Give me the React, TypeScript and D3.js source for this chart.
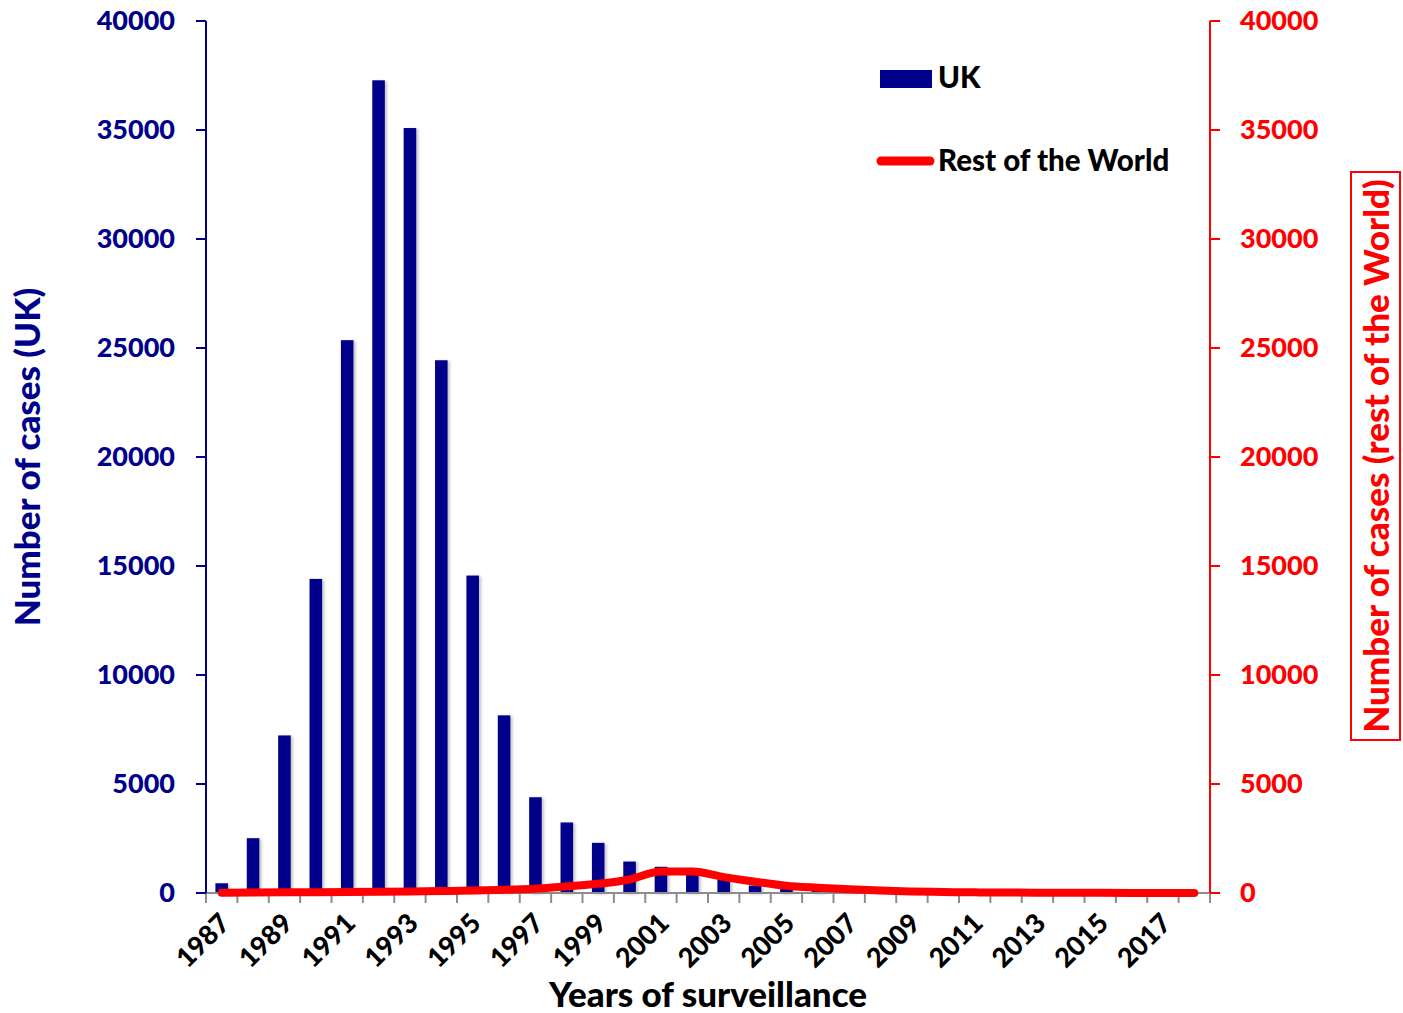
import React from "react";
import * as d3 from "d3";

// Surveillance years
const years: number[] = d3.range(1987, 2019);

// Annual case counts, United Kingdom
const ukCases: number[] = [
  446, 2514, 7228, 14407, 25359, 37280, 35090, 24438, 14562, 8149,
  4393, 3235, 2301, 1443, 1202, 1144, 611, 343, 225, 114,
  67, 37, 12, 11, 7, 3, 3, 1, 2, 2, 0, 1,
];

// Annual case counts, rest of the world
const rowCases: number[] = [
  10, 20, 30, 40, 50, 60, 70, 90, 110, 150,
  190, 310, 420, 620, 990, 990, 730, 520, 330, 240,
  170, 110, 70, 45, 30, 20, 15, 10, 8, 5, 4, 3,
];

const yTicks: number[] = [0, 5000, 10000, 15000, 20000, 25000, 30000, 35000, 40000];

const W = 1403;
const H = 1013;
const BLUE = "#00008B";
const RED = "#FF0000";
const FONT = "Lato, 'Open Sans', sans-serif";
const WEIGHT = 900;

export default function App() {
  const left = 206;
  const right = 1210;
  const top = 21;
  const bottom = 893;

  const x = d3
    .scaleBand<number>()
    .domain(years)
    .range([left, right])
    .paddingInner(0)
    .paddingOuter(0);
  const yL = d3.scaleLinear().domain([0, 40000]).range([bottom, top]);
  const yR = d3.scaleLinear().domain([0, 40000]).range([bottom, top]);

  const bw = x.bandwidth();
  const barW = bw * 0.4;
  const cx = (yr: number) => (x(yr) as number) + bw / 2;

  const line = d3
    .line<number>()
    .x((_, i) => cx(years[i]))
    .y((d) => yR(d))
    .curve(d3.curveMonotoneX);

  const boundaries = d3.range(years.length + 1).map((i) => left + i * bw);

  return (
    <svg
      width={W}
      height={H}
      style={{ position: "absolute", left: 0, top: 0, background: "#fff" }}
      fontFamily={FONT}
      fontWeight={WEIGHT}
    >
      <defs>
        <filter id="barShadow" x="-30%" y="-10%" width="180%" height="130%">
          <feDropShadow dx="2" dy="1" stdDeviation="1.5" floodColor="#000" floodOpacity="0.25" />
        </filter>
      </defs>

      {/* UK bars */}
      <g filter="url(#barShadow)">
        {ukCases.map((v, i) => (
          <rect
            key={years[i]}
            x={cx(years[i]) - barW / 2}
            y={yL(v)}
            width={barW}
            height={bottom - yL(v)}
            fill={BLUE}
          />
        ))}
      </g>

      {/* x axis */}
      <line x1={left} x2={right} y1={bottom} y2={bottom} stroke="#8c8c8c" strokeWidth={2} />
      {boundaries.map((b, i) => (
        <line key={i} x1={b} x2={b} y1={bottom} y2={bottom + 10} stroke="#8c8c8c" strokeWidth={2} />
      ))}
      {years
        .filter((yr) => (yr - 1987) % 2 === 0)
        .map((yr) => (
          <text
            key={yr}
            transform={`translate(${cx(yr) + 10},${bottom + 32}) rotate(-45)`}
            textAnchor="end"
            fontSize={27}
            fill="#000"
          >
            {yr}
          </text>
        ))}
      <text x={708} y={1007} textAnchor="middle" fontSize={35} fill="#000">
        Years of surveillance
      </text>

      {/* left axis */}
      <line x1={left} x2={left} y1={top} y2={bottom} stroke={BLUE} strokeWidth={2} />
      {yTicks.map((t) => (
        <g key={t}>
          <line x1={left - 10} x2={left} y1={yL(t)} y2={yL(t)} stroke={BLUE} strokeWidth={2} />
          <text x={175} y={yL(t)} dy="0.35em" textAnchor="end" fontSize={27} fill={BLUE}>
            {t}
          </text>
        </g>
      ))}
      <text
        transform={`translate(40,457) rotate(-90)`}
        textAnchor="middle"
        fontSize={35}
        fill={BLUE}
      >
        Number of cases (UK)
      </text>

      {/* right axis */}
      <line x1={right} x2={right} y1={top} y2={bottom} stroke={RED} strokeWidth={2} />
      {yTicks.map((t) => (
        <g key={t}>
          <line x1={right} x2={right + 10} y1={yR(t)} y2={yR(t)} stroke={RED} strokeWidth={2} />
          <text x={1240} y={yR(t)} dy="0.35em" textAnchor="start" fontSize={27} fill={RED}>
            {t}
          </text>
        </g>
      ))}
      <rect x={1351} y={172} width={49} height={568} fill="none" stroke={RED} strokeWidth={2} />
      <text
        transform={`translate(1389,456) rotate(-90)`}
        textAnchor="middle"
        fontSize={35}
        fill={RED}
      >
        Number of cases (rest of the World)
      </text>

      {/* rest of the world line */}
      <path
        d={line(rowCases) || ""}
        fill="none"
        stroke={RED}
        strokeWidth={8}
        strokeLinecap="round"
        strokeLinejoin="round"
      />

      {/* legend */}
      <rect x={880} y={70} width={52} height={18} fill={BLUE} />
      <text x={938} y={88} fontSize={29.5} fill="#000">
        UK
      </text>
      <line x1={881} x2={930} y1={161} y2={161} stroke={RED} strokeWidth={9} strokeLinecap="round" />
      <text x={938} y={171} fontSize={29.5} fill="#000">
        Rest of the World
      </text>
    </svg>
  );
}
